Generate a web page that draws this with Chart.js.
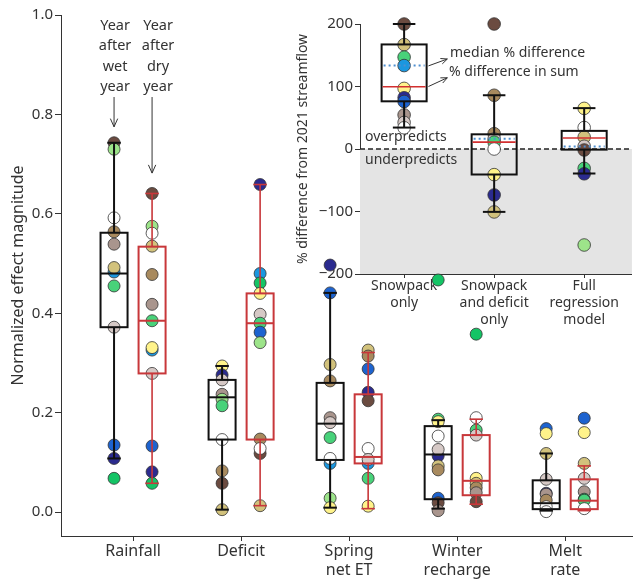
<!DOCTYPE html>
<html>
<head>
<meta charset="utf-8">
<script src="https://cdn.jsdelivr.net/npm/chart.js@4.4.1/dist/chart.umd.min.js"></script>
<style>
  html, body { margin: 0; padding: 0; background: #fff; }
  #wrap { position: relative; width: 639px; height: 580px; }
  canvas { position: absolute; left: 0; top: 0; }
</style>
</head>
<body>
<div id="wrap">
  <canvas id="insetChart" width="639" height="580"></canvas>
  <canvas id="mainChart" width="639" height="580"></canvas>
</div>
<script>
// Effect magnitude boxplots + inset of streamflow prediction error

// --- main panel data ---
const categories = [['Rainfall'], ['Deficit'], ['Spring', 'net ET'], ['Winter', 'recharge'], ['Melt', 'rate']];
const yTicks = [0.0, 0.2, 0.4, 0.6, 0.8, 1.0];

// year after wet year (one list per category)
const wetValues = [
    [0.743, 0.730, 0.592, 0.564, 0.539, 0.483, 0.492, 0.455, 0.372, 0.135, 0.108, 0.068],
    [0.294, 0.276, 0.266, 0.237, 0.227, 0.214, 0.146, 0.083, 0.058, 0.005],
    [0.497, 0.441, 0.297, 0.264, 0.190, 0.180, 0.150, 0.098, 0.108, 0.028, 0.009],
    [0.467, 0.187, 0.182, 0.153, 0.113, 0.126, 0.093, 0.085, 0.028, 0.019, 0.003],
    [0.168, 0.158, 0.118, 0.066, 0.038, 0.036, 0.024, 0.011, 0.001]
];
const wetSites = [
    ['db', 'lg', 'wh', 'tn', 'mv', 'sb', 'kh', 'gr', 'pk', 'bl', 'nv', 'gn'],
    ['ye', 'nv', 'pk', 'mv', 'lg', 'gr', 'wh', 'tn', 'db', 'kh'],
    ['nv', 'bl', 'kh', 'tn', 'mv', 'pk', 'gr', 'sb', 'wh', 'lg', 'ye'],
    ['gn', 'gr', 'ye', 'wh', 'nv', 'pk', 'kh', 'tn', 'bl', 'db', 'mv'],
    ['bl', 'ye', 'kh', 'pk', 'nv', 'mv', 'tn', 'wh', 'wh']
];
// year after dry year
const dryValues = [
    [0.641, 0.575, 0.561, 0.535, 0.478, 0.418, 0.385, 0.326, 0.331, 0.279, 0.133, 0.081, 0.058],
    [0.659, 0.480, 0.461, 0.440, 0.398, 0.380, 0.362, 0.341, 0.147, 0.118, 0.128, 0.013],
    [0.326, 0.314, 0.288, 0.241, 0.224, 0.128, 0.098, 0.106, 0.068, 0.012],
    [0.358, 0.190, 0.165, 0.155, 0.068, 0.058, 0.049, 0.039, 0.021],
    [0.189, 0.160, 0.098, 0.068, 0.041, 0.026, 0.024, 0.007]
];
const drySites = [
    ['db', 'lg', 'wh', 'kh', 'tn', 'mv', 'gr', 'sb', 'ye', 'pk', 'bl', 'nv', 'gn'],
    ['nv', 'sb', 'gn', 'ye', 'pk', 'gr', 'bl', 'lg', 'tn', 'db', 'wh', 'kh'],
    ['kh', 'tn', 'bl', 'nv', 'db', 'wh', 'sb', 'pk', 'gr', 'ye'],
    ['gn', 'wh', 'gr', 'pk', 'ye', 'kh', 'tn', 'mv', 'db'],
    ['bl', 'ye', 'kh', 'pk', 'mv', 'gn', 'gr', 'wh']
];

// box statistics
const wetQ1 = [0.372, 0.146, 0.105, 0.026, 0.006];
const wetMed = [0.480, 0.231, 0.178, 0.116, 0.018];
const wetQ3 = [0.562, 0.266, 0.260, 0.173, 0.064];
const wetLo = [0.108, 0.005, 0.009, 0.007, 0.003];
const wetHi = [0.743, 0.294, 0.441, 0.185, 0.118];

const dryQ1 = [0.279, 0.146, 0.098, 0.034, 0.006];
const dryMed = [0.385, 0.380, 0.111, 0.063, 0.023];
const dryQ3 = [0.534, 0.440, 0.237, 0.155, 0.066];
const dryLo = [0.058, 0.013, 0.007, 0.016, 0.003];
const dryHi = [0.641, 0.659, 0.321, 0.187, 0.093];

// --- inset data ---
const insetCategories = [['Snowpack', 'only'], ['Snowpack', 'and deficit', 'only'], ['Full', 'regression', 'model']];
const insetTicks = [-200, -100, 0, 100, 200];
const insetValues = [
    [200, 167, 147, 133.5, 97, 82, 76, 54.5, 42.5, 34],
    [200, 86, 24.5, 16, 11, 0, -41, -73.5, -100.7],
    [65, 34.3, 19, 4.4, -1.6, -31, -39.7, -153.6]
];
const insetSites = [
    ['db', 'kh', 'gr', 'sb', 'ye', 'nv', 'bl', 'mv', 'pk', 'wh'],
    ['db', 'tn', 'tn', 'pk', 'gr', 'wh', 'ye', 'nv', 'kh'],
    ['ye', 'wh', 'kh', 'pk', 'db', 'gr', 'nv', 'lg']
];
const insetQ1 = [76.3, -40.8, -1];
const insetQ3 = [167.3, 23.5, 29];
const insetLo = [34.3, -100.6, -39.2];
const insetHi = [200, 86, 65.4];
const insetSum = [99.7, 11, 17.5];      // % difference in sum (red)
const insetMedian = [133.5, 16.3, 4];   // median % difference (blue dotted)

// site colours
const siteColors = {
    db: '#6b4b40', lg: '#9de48a', wh: '#ffffff', tn: '#a88a5e', mv: '#a9958d',
    kh: '#d2c27c', sb: '#1b97df', gr: '#48d27a', pk: '#d6c9c6', bl: '#1d63cf',
    nv: '#2b2b8f', gn: '#14c465', ye: '#fff38a'
};

const WET_OFF = -0.176;
const DRY_OFF = 0.176;
const WET_COLOR = '#111111';
const DRY_COLOR = '#c8373a';
const AXIS_COLOR = '#333333';
const TEXT_COLOR = '#333333';

Chart.defaults.font.family = '"Noto Sans", "Open Sans", sans-serif';
Chart.defaults.color = TEXT_COLOR;

function buildPoints(values, sites, offset) {
    const pts = [];
    const cols = [];
    values.forEach((vals, i) => {
        vals.forEach((v, j) => {
            pts.push({ x: i + offset, y: v });
            cols.push(siteColors[sites[i][j]]);
        });
    });
    return { pts, cols };
}

function line(ctx, x1, y1, x2, y2) {
    ctx.beginPath();
    ctx.moveTo(x1, y1);
    ctx.lineTo(x2, y2);
    ctx.stroke();
}

function arrow(ctx, x1, y1, x2, y2, head) {
    const a = Math.atan2(y2 - y1, x2 - x1);
    line(ctx, x1, y1, x2, y2);
    ctx.beginPath();
    ctx.moveTo(x2 - head * Math.cos(a - 0.42), y2 - head * Math.sin(a - 0.42));
    ctx.lineTo(x2, y2);
    ctx.lineTo(x2 - head * Math.cos(a + 0.42), y2 - head * Math.sin(a + 0.42));
    ctx.stroke();
}

// whiskers + box (+ optional median line)
function drawBox(ctx, xs, ys, cx, halfW, st, color, lw, whiskerW) {
    const px = xs.getPixelForValue(cx);
    const l = xs.getPixelForValue(cx - halfW);
    const r = xs.getPixelForValue(cx + halfW);
    const cl = xs.getPixelForValue(cx - halfW / 2);
    const cr = xs.getPixelForValue(cx + halfW / 2);
    ctx.save();
    ctx.strokeStyle = color;
    ctx.lineWidth = whiskerW;
    line(ctx, px, ys.getPixelForValue(st.hi), px, ys.getPixelForValue(st.q3));
    line(ctx, px, ys.getPixelForValue(st.q1), px, ys.getPixelForValue(st.lo));
    line(ctx, cl, ys.getPixelForValue(st.hi), cr, ys.getPixelForValue(st.hi));
    line(ctx, cl, ys.getPixelForValue(st.lo), cr, ys.getPixelForValue(st.lo));
    ctx.lineWidth = lw;
    const top = ys.getPixelForValue(st.q3);
    const bot = ys.getPixelForValue(st.q1);
    ctx.strokeRect(l, top, r - l, bot - top);
    if (st.med !== undefined) {
        line(ctx, l, ys.getPixelForValue(st.med), r, ys.getPixelForValue(st.med));
    }
    ctx.restore();
}

// ---------------- main chart ----------------
const wetPts = buildPoints(wetValues, wetSites, WET_OFF);
const dryPts = buildPoints(dryValues, drySites, DRY_OFF);

const mainDecor = {
    id: 'mainDecor',
    afterDatasetsDraw(chart) {
        const { ctx } = chart;
        const xs = chart.scales.x;
        const ys = chart.scales.y;
        categories.forEach((c, i) => {
            drawBox(ctx, xs, ys, i + WET_OFF, 0.125,
                { q1: wetQ1[i], med: wetMed[i], q3: wetQ3[i], lo: wetLo[i], hi: wetHi[i] }, WET_COLOR, 2, 2);
            drawBox(ctx, xs, ys, i + DRY_OFF, 0.125,
                { q1: dryQ1[i], med: dryMed[i], q3: dryQ3[i], lo: dryLo[i], hi: dryHi[i] }, DRY_COLOR, 2, 1.6);
        });

        // "Year after wet / dry year" labels with arrows
        ctx.save();
        ctx.font = '14.5px "Noto Sans", sans-serif';
        ctx.fillStyle = TEXT_COLOR;
        ctx.textAlign = 'center';
        ctx.textBaseline = 'middle';
        const x0 = xs.getPixelForValue(0);
        const ty = ys.getPixelForValue(0.978);
        ['Year', 'after', 'wet', 'year'].forEach((t, k) => ctx.fillText(t, x0 - 18, ty + k * 20.3));
        ['Year', 'after', 'dry', 'year'].forEach((t, k) => ctx.fillText(t, x0 + 25, ty + k * 20.3));
        ctx.strokeStyle = '#333';
        ctx.lineWidth = 1;
        const wx = xs.getPixelForValue(WET_OFF);
        const dx = xs.getPixelForValue(DRY_OFF);
        arrow(ctx, wx, ys.getPixelForValue(0.835), wx, ys.getPixelForValue(0.775), 9);
        arrow(ctx, dx, ys.getPixelForValue(0.835), dx, ys.getPixelForValue(0.682), 9);
        ctx.restore();
    }
};

new Chart(document.getElementById('mainChart'), {
    type: 'scatter',
    data: {
        datasets: [
            {
                data: wetPts.pts, pointBackgroundColor: wetPts.cols, pointBorderColor: '#333',
                pointBorderWidth: 0.8, pointRadius: 6, clip: false
            },
            {
                data: dryPts.pts, pointBackgroundColor: dryPts.cols, pointBorderColor: '#333',
                pointBorderWidth: 0.8, pointRadius: 6, clip: false
            }
        ]
    },
    options: {
        responsive: false,
        animation: false,
        events: [],
        layout: { padding: { top: 15, right: 2, left: 0, bottom: 0 } },
        plugins: { legend: { display: false }, tooltip: { enabled: false } },
        scales: {
            x: {
                type: 'linear', min: -0.667, max: 4.62,
                afterBuildTicks: s => { s.ticks = categories.map((c, i) => ({ value: i })); },
                afterFit: s => { s.height = 44; },
                ticks: { autoSkip: false, maxRotation: 0, padding: 1, font: { size: 16 }, callback: v => categories[v] },
                grid: { drawOnChartArea: false, drawTicks: true, tickLength: 5, color: AXIS_COLOR },
                border: { display: true, color: AXIS_COLOR, width: 1 }
            },
            y: {
                min: -0.048, max: 1.0,
                afterBuildTicks: s => { s.ticks = yTicks.map(v => ({ value: v })); },
                afterFit: s => { s.width = 61; },
                ticks: { padding: 2, font: { size: 15 }, callback: v => v.toFixed(1) },
                grid: { drawOnChartArea: false, drawTicks: true, tickLength: 6, color: AXIS_COLOR },
                border: { display: true, color: AXIS_COLOR, width: 1 },
                title: { display: true, text: 'Normalized effect magnitude', font: { size: 16 }, padding: { top: 9, bottom: 0 } }
            }
        }
    },
    plugins: [mainDecor]
});

// ---------------- inset chart ----------------
const insetPts = buildPoints(insetValues, insetSites, 0);

const insetDecor = {
    id: 'insetDecor',
    beforeDatasetsDraw(chart) {
        const { ctx, chartArea } = chart;
        const ys = chart.scales.y;
        const y0 = ys.getPixelForValue(0);
        ctx.save();
        ctx.fillStyle = '#e4e4e4';
        ctx.fillRect(chartArea.left, y0, chartArea.right - chartArea.left, chartArea.bottom - y0);
        ctx.strokeStyle = '#222';
        ctx.lineWidth = 1.5;
        ctx.setLineDash([5, 3]);
        line(ctx, chartArea.left, y0, chartArea.right, y0);
        ctx.setLineDash([]);
        ctx.font = '14px "Noto Sans", sans-serif';
        ctx.fillStyle = TEXT_COLOR;
        ctx.textBaseline = 'middle';
        ctx.fillText('overpredicts', chartArea.left + 5, y0 - 12);
        ctx.fillText('underpredicts', chartArea.left + 5, y0 + 11);
        ctx.restore();
    },
    afterDatasetsDraw(chart) {
        const { ctx } = chart;
        const xs = chart.scales.x;
        const ys = chart.scales.y;
        insetCategories.forEach((c, i) => {
            drawBox(ctx, xs, ys, i, 0.25,
                { q1: insetQ1[i], q3: insetQ3[i], lo: insetLo[i], hi: insetHi[i] }, '#111', 2, 2);
            const l = xs.getPixelForValue(i - 0.25);
            const r = xs.getPixelForValue(i + 0.25);
            ctx.save();
            ctx.strokeStyle = '#d22f2f';
            ctx.lineWidth = 1.6;
            line(ctx, l + 1, ys.getPixelForValue(insetSum[i]), r - 1, ys.getPixelForValue(insetSum[i]));
            ctx.strokeStyle = '#4f8fd0';
            ctx.lineWidth = 2;
            ctx.setLineDash([2, 3]);
            line(ctx, l + 2, ys.getPixelForValue(insetMedian[i]), r - 2, ys.getPixelForValue(insetMedian[i]));
            ctx.restore();
        });

        // legend-style annotations
        ctx.save();
        ctx.font = '14px "Noto Sans", sans-serif';
        ctx.fillStyle = TEXT_COLOR;
        ctx.textBaseline = 'middle';
        const tx = xs.getPixelForValue(0.51);
        ctx.fillText('median % difference', tx, ys.getPixelForValue(153));
        ctx.fillText('% difference in sum', tx - 1, ys.getPixelForValue(123));
        ctx.strokeStyle = '#333';
        ctx.lineWidth = 1;
        const ax = xs.getPixelForValue(0.27);
        const bx = xs.getPixelForValue(0.48);
        arrow(ctx, ax, ys.getPixelForValue(133), bx, ys.getPixelForValue(144), 7);
        arrow(ctx, ax, ys.getPixelForValue(100), bx, ys.getPixelForValue(114), 7);
        ctx.restore();
    }
};

new Chart(document.getElementById('insetChart'), {
    type: 'scatter',
    data: {
        datasets: [{
            data: insetPts.pts, pointBackgroundColor: insetPts.cols, pointBorderColor: '#333',
            pointBorderWidth: 0.8, pointRadius: 6.3, clip: false
        }]
    },
    options: {
        responsive: false,
        animation: false,
        events: [],
        layout: { padding: { top: 24, right: 2, left: 291, bottom: 250 } },
        plugins: { legend: { display: false }, tooltip: { enabled: false } },
        scales: {
            x: {
                type: 'linear', min: -0.49, max: 2.53,
                afterBuildTicks: s => { s.ticks = insetCategories.map((c, i) => ({ value: i })); },
                afterFit: s => { s.height = 56; },
                ticks: { autoSkip: false, maxRotation: 0, padding: 0, font: { size: 14 }, callback: v => insetCategories[v] },
                grid: { drawOnChartArea: false, drawTicks: true, tickLength: 4, color: AXIS_COLOR },
                border: { display: true, color: AXIS_COLOR, width: 1 }
            },
            y: {
                min: -200, max: 200,
                afterBuildTicks: s => { s.ticks = insetTicks.map(v => ({ value: v })); },
                afterFit: s => { s.width = 69; },
                ticks: { padding: 2, font: { size: 15 }, callback: v => (v < 0 ? '\u2212' + Math.abs(v) : String(v)) },
                grid: { drawOnChartArea: false, drawTicks: true, tickLength: 5, color: AXIS_COLOR },
                border: { display: true, color: AXIS_COLOR, width: 1 },
                title: { display: true, text: '% difference from 2021 streamflow', font: { size: 14 }, padding: { top: 4, bottom: 0 } }
            }
        }
    },
    plugins: [insetDecor]
});
</script>
</body>
</html>
